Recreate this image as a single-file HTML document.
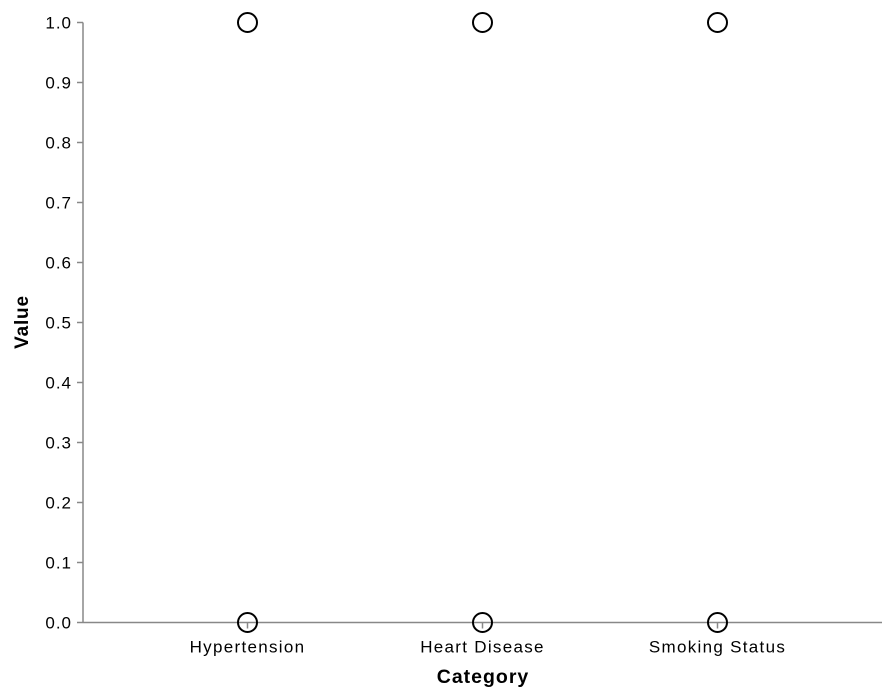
<!DOCTYPE html>
<html><head><meta charset="utf-8"><style>
html,body{margin:0;padding:0;background:#fff;}
svg{display:block;font-family:"Liberation Sans",Arial,sans-serif;}
</style></head><body>
<svg id="chart" width="892" height="696"></svg>
<script>
const categories = ["Hypertension", "Heart Disease", "Smoking Status"];
const seriesCategory = ["Hypertension","Hypertension","Heart Disease","Heart Disease","Smoking Status","Smoking Status"];
const seriesValues = [1, 0, 1, 0, 1, 0];
const yTicks = [0,0.1,0.2,0.3,0.4,0.5,0.6,0.7,0.8,0.9,1.0];
const yTickLabels = ["0.0","0.1","0.2","0.3","0.4","0.5","0.6","0.7","0.8","0.9","1.0"];

const NS="http://www.w3.org/2000/svg";
const svg=document.getElementById('chart');
const X0=83, X1=882, Y0=622.5, Y1=22.5;
const step=(X1-X0)/(categories.length-1+1.4);
function x(c){return X0+step*0.7+step*categories.indexOf(c);}
function y(v){return Y0+(Y1-Y0)*v;}
function el(t,a,p){const e=document.createElementNS(NS,t);for(const k in a)e.setAttribute(k,a[k]);(p||svg).appendChild(e);return e;}

const yAxis=el('g',{});


el('line',{x1:X0,x2:X0,y1:Y1,y2:Y0,stroke:'#888','stroke-width':1.5},yAxis);
yTicks.forEach((t,i)=>{
  el('line',{x1:X0-6,x2:X0,y1:y(t),y2:y(t),stroke:'#888','stroke-width':1.5},yAxis);
  const tx=el('text',{x:X0-11,y:y(t)+6,'text-anchor':'end','font-size':17,'letter-spacing':1,fill:'#000'},yAxis);
  
  
  tx.textContent=yTickLabels[i];
});
const yt=el('text',{transform:'translate(28,322) rotate(-90)','text-anchor':'middle','font-size':19,'font-weight':'bold','letter-spacing':0.8});


yt.textContent='Value';

const xAxis=el('g',{});


el('line',{x1:X0,x2:X1,y1:Y0,y2:Y0,stroke:'#888','stroke-width':1.5},xAxis);
categories.forEach(c=>{
  el('line',{x1:x(c),x2:x(c),y1:Y0,y2:Y0+6,stroke:'#888','stroke-width':1.5},xAxis);
  const tx=el('text',{x:x(c),y:Y0+30,'text-anchor':'middle','font-size':17,'letter-spacing':1.3},xAxis);
  
  
  tx.textContent=c;
});
const xt=el('text',{x:483,y:683,'text-anchor':'middle','font-size':19.5,'font-weight':'bold','letter-spacing':1});


xt.textContent='Category';

seriesValues.forEach((v,i)=>{
  const c=el('circle',{cx:x(seriesCategory[i]),cy:y(v),r:9.5,fill:'none',stroke:'#000','stroke-width':2});
  
  
});
</script>
</body></html>
